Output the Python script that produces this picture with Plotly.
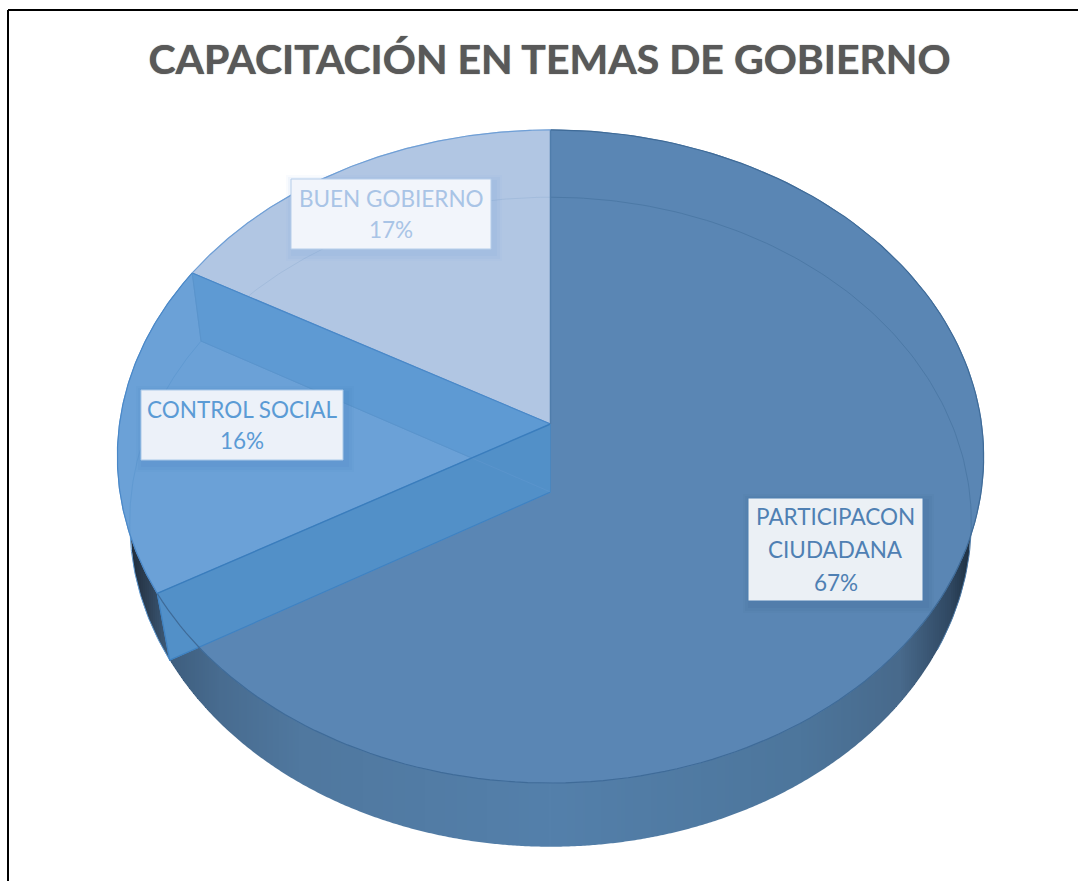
import numpy as np
import plotly.graph_objects as go

# ---- data ----
TITLE = "CAPACITACIÓN EN TEMAS DE GOBIERNO"
CATEGORIES = [["PARTICIPACON", "CIUDADANA"], ["CONTROL SOCIAL"], ["BUEN GOBIERNO"]]
SHARES = [66.7, 16.45, 16.85]

# ---- styles ----
FACE = ["#5A86B4", "#6BA1D7", "#B1C6E3"]
EDGE = ["#3F6B98", "#4A88C8", "#6F9FD6"]
TEXT = ["#4F80B3", "#5B9BD5", "#A9C4E6"]
BOX_FILL = ["#EBF0F5", "#ECF1F9", "#F2F5FB"]
BOX_EDGE = ["#4F7FB0", "#A9C8E8", "#B5CDEA"]
SHADOW = ["50,90,140", "60,120,190", "110,160,220"]
BOXES = [(748, 498, 923, 601), (141, 390, 343, 460), (291, 179, 491, 249)]
LINE_GAP = [33, 31, 31]
W, H = 1078, 881
CX = 550.5
TOP = dict(y0=424.0, a=431.0, b=0.0995, c=323.3)
BOT = dict(y0=492.0, a=419.0, b=0.0923, c=322.0)
WALL_STOPS_X = [125, 135, 150, 170, 220, 300, 550, 800, 900, 950, 975]
WALL_STOPS_C = [(30, 42, 56), (36, 50, 66), (47, 67, 89), (62, 94, 126), (72, 108, 144), (80, 120, 159),
                (84, 128, 171), (77, 118, 156), (72, 106, 140), (48, 72, 98), (26, 42, 58)]


def proj(theta, p):
    t = np.radians(np.asarray(theta, dtype=float))
    X, Z = np.sin(t), np.cos(t)
    d = 1 + p["b"] * Z
    return CX + p["a"] * X / d, p["y0"] - p["c"] * Z / d


def poly(xs, ys, fill, name="", lw=1):
    return go.Scatter(x=list(xs), y=list(ys), mode="lines", fill="toself", fillcolor=fill,
                      line=dict(color=fill, width=lw), hoverinfo="skip", showlegend=False, name=name)


def line(xs, ys, color, width=1.2, opacity=1.0):
    return go.Scatter(x=list(xs), y=list(ys), mode="lines", opacity=opacity,
                      line=dict(color=color, width=width), hoverinfo="skip", showlegend=False)


bounds = 360 * np.cumsum([0] + SHARES) / sum(SHARES)
fig = go.Figure()

# outer wall: vertical strips on whole pixels between the front arcs of the top and of the base
th_front = np.linspace(90, 270, 721)
tx, ty = proj(th_front, TOP)
fx, fy = proj(th_front, BOT)
tord, ford = np.argsort(tx), np.argsort(fx)
edges = np.arange(np.floor(fx.min()), np.ceil(fx.max()) + 2, 2.0)
for e0, e1 in zip(edges[:-1], edges[1:]):
    xs = np.clip(np.array([e0, e1]), fx.min(), fx.max())
    lo = np.interp(xs, fx[ford], fy[ford])
    hi = np.interp(xs, tx[tord], ty[tord]) - 6
    rgb = [np.interp((e0 + e1) / 2, WALL_STOPS_X, [c[i] for c in WALL_STOPS_C]) for i in range(3)]
    fig.add_trace(poly([xs[0], xs[1], xs[1], xs[0]], [hi[0], hi[1], lo[1], lo[0]],
                       "rgb(%d,%d,%d)" % tuple(rgb), lw=0))

# top faces
for i in range(3):
    th = np.linspace(bounds[i], bounds[i + 1], 160)
    x, y = proj(th, TOP)
    fig.add_trace(poly(np.r_[CX, x, CX], np.r_[TOP["y0"], y, TOP["y0"]], FACE[i], " ".join(CATEGORIES[i])))

# faint far rim of the base, seen through the faces
for lo, hi, col in [(0, 118, "#4C79A6"), (bounds[1], bounds[2], "#609AD2"), (bounds[2], 360, "#A3BCDC")]:
    x, y = proj(np.linspace(lo, hi, 120), BOT)
    fig.add_trace(line(x, y, col, 1))

# inner walls seen through the slices
ax, ay = proj(bounds[1], TOP)
bx, by = proj(bounds[2], TOP)
ax2, ay2 = proj(bounds[1], BOT)
bx2, by2 = proj(bounds[2], BOT)
fig.add_trace(poly([bx, bx2, CX, CX, bx], [by, by2, BOT["y0"], TOP["y0"], by], "#5E9AD3"))
fig.add_trace(poly([ax, ax2, CX, CX, ax], [ay, ay2, BOT["y0"], TOP["y0"], ay], "#5290C8"))

# edges of the inner walls
fig.add_trace(line([bx, CX], [by, TOP["y0"]], "#4A88C8", 1.2))
fig.add_trace(line([bx, bx2, CX], [by, by2, BOT["y0"]], "#5A94CC", 1))
fig.add_trace(line([ax, CX], [ay, TOP["y0"]], "#3A7DBD", 1.4))
fig.add_trace(line([ax, ax2, CX], [ay, ay2, BOT["y0"]], "#3F82C2", 1.2))
fig.add_trace(line([CX, CX], [TOP["y0"], BOT["y0"]], "#4A86BE", 1))
x, y = proj([0, 0], TOP)
fig.add_trace(line([CX, CX], [y[0], TOP["y0"]], "#4F7DAB", 1.5))

# rims
for i in range(3):
    x, y = proj(np.linspace(bounds[i], bounds[i + 1], 160), TOP)
    fig.add_trace(line(x, y, EDGE[i], 1.2))

# label boxes
shapes = []
annotations = []
for i, (x0, y0, x1, y1) in enumerate(BOXES):
    for off, alpha in [(8, 0.04), (6, 0.06), (3, 0.08)]:
        shapes.append(dict(type="rect", x0=x0 - off + 3, x1=x1 + off + 3, y0=y0 - off + 4, y1=y1 + off + 4,
                           fillcolor="rgba(%s,%g)" % (SHADOW[i], alpha), line=dict(width=0), layer="above"))
    shapes.append(dict(type="rect", x0=x0, x1=x1, y0=y0, y1=y1, fillcolor=BOX_FILL[i],
                       line=dict(color=BOX_EDGE[i], width=1), layer="above"))
    rows = CATEGORIES[i] + ["%d%%" % round(SHARES[i])]
    mid = (y0 + y1) / 2
    for k, row in enumerate(rows):
        annotations.append(dict(x=(x0 + x1) / 2, y=mid + (k - (len(rows) - 1) / 2) * LINE_GAP[i],
                                xref="x", yref="y", showarrow=False, text=row,
                                font=dict(family="Lato, Carlito, sans-serif", size=22.5, color=TEXT[i])))

# frame round the picture
shapes.append(dict(type="line", x0=8, x1=W, y0=10, y1=10, line=dict(color="#000", width=2), layer="above"))
shapes.append(dict(type="line", x0=8, x1=8, y0=10, y1=H, line=dict(color="#000", width=2), layer="above"))

fig.update_layout(
    width=W, height=H, margin=dict(l=0, r=0, t=0, b=0),
    paper_bgcolor="white", plot_bgcolor="white", showlegend=False,
    title=dict(text="<b>%s</b>" % TITLE, x=549.5 / W, xanchor="center", y=1 - 60 / H, yanchor="middle",
               font=dict(family="Lato, Carlito, sans-serif", size=41, color="#595959",
                         shadow="0 0 1px #595959")),
    xaxis=dict(range=[0, W], visible=False, fixedrange=True),
    yaxis=dict(range=[H, 0], visible=False, fixedrange=True),
    shapes=shapes, annotations=annotations,
)
fig.write_html("out.html", config=dict(displayModeBar=False),
               post_script="document.body.style.margin='0';document.body.style.overflow='hidden';")
